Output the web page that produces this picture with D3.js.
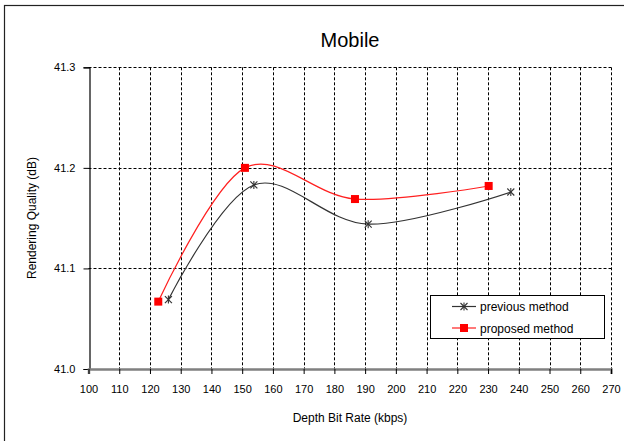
<!DOCTYPE html>
<html>
<head>
<meta charset="utf-8">
<script src="https://cdn.jsdelivr.net/npm/d3@7"></script>
<style>
  html, body { margin: 0; padding: 0; background: #fff; }
  svg { display: block; font-family: "Liberation Sans", Arial, sans-serif; }
</style>
</head>
<body>
<svg id="chart" width="624" height="441"></svg>
<script>
// Depth bit rate (kbps) vs. rendering quality (dB)
const previousRate = [126.0, 153.8, 191.0, 237.4];
const previousQuality = [41.069, 41.183, 41.144, 41.176];
const proposedRate = [122.7, 150.9, 186.7, 230.2];
const proposedQuality = [41.067, 41.200, 41.169, 41.182];
const xTicks = d3.range(100, 271, 10);
const yTicks = [41.0, 41.1, 41.2, 41.3];
const seriesNames = ["previous method", "proposed method"];

const svg = d3.select("#chart");
const margin = { left: 88.5, right: 611, top: 67.3, bottom: 369 };

const x = d3.scaleLinear().domain([100, 270]).range([margin.left, margin.right]);
const y = d3.scaleLinear().domain([41.0, 41.3]).range([margin.bottom, margin.top]);

// outer chart frame
svg.append("rect")
  .attr("x", 4.5).attr("y", 5.5).attr("width", 640).attr("height", 460)
  .attr("fill", "none").attr("stroke", "#222").attr("stroke-width", 1.2);

// title
svg.append("text")
  .attr("x", 350).attr("y", 47)
  .attr("text-anchor", "middle")
  .attr("font-size", 20)
  .attr("fill", "#000")
  .text("Mobile");

// dashed grid
const grid = svg.append("g").attr("stroke", "#000").attr("stroke-width", 1)
  .attr("stroke-dasharray", "3,2");
grid.selectAll("line.v").data(xTicks.filter(d => d > 100)).join("line")
  .attr("class", "v")
  .attr("x1", d => Math.round(x(d)) + 0.5).attr("x2", d => Math.round(x(d)) + 0.5)
  .attr("y1", y(41.3)).attr("y2", y(41.0));
grid.selectAll("line.h").data(yTicks.filter(d => d > 41.0)).join("line")
  .attr("class", "h")
  .attr("x1", x(100)).attr("x2", x(270))
  .attr("y1", d => Math.round(y(d)) + 0.5).attr("y2", d => Math.round(y(d)) + 0.5);

// y axis
const yAxis = svg.append("g")
  .attr("transform", `translate(${Math.round(x(100)) + 0.5},0)`)
  .call(d3.axisLeft(y).tickValues(yTicks).tickFormat(d3.format(".1f")).tickSize(6).tickPadding(8));
yAxis.select(".domain").attr("stroke", "#000").attr("stroke-width", 1.2);
yAxis.selectAll(".tick line").attr("stroke", "#000");
yAxis.selectAll(".tick text").attr("font-size", 11).attr("fill", "#000")
  .attr("font-family", "Liberation Sans, Arial, sans-serif");

// x axis
const xAxis = svg.append("g")
  .attr("transform", `translate(0,${Math.round(y(41.0))})`)
  .call(d3.axisBottom(x).tickValues(xTicks).tickFormat(d3.format("d")).tickSize(5).tickPadding(11));
xAxis.select(".domain").attr("stroke", "#808080").attr("stroke-width", 2.5);
xAxis.selectAll(".tick line").attr("stroke", "#000");
xAxis.selectAll(".tick text").attr("font-size", 11).attr("fill", "#000")
  .attr("font-family", "Liberation Sans, Arial, sans-serif");

// axis titles
svg.append("text")
  .attr("x", 350).attr("y", 422)
  .attr("text-anchor", "middle").attr("font-size", 12).attr("fill", "#000")
  .text("Depth Bit Rate (kbps)");
svg.append("text")
  .attr("transform", "translate(36,218) rotate(-90)")
  .attr("text-anchor", "middle").attr("font-size", 12).attr("fill", "#000")
  .text("Rendering Quality (dB)");

// smoothed series lines
const line = d3.line().x(d => x(d[0])).y(d => y(d[1])).curve(d3.curveCardinal.tension(0));
const prevPts = d3.zip(previousRate, previousQuality);
const propPts = d3.zip(proposedRate, proposedQuality);

svg.append("path").datum(prevPts)
  .attr("d", line).attr("fill", "none").attr("stroke", "#333").attr("stroke-width", 1.2);
svg.append("path").datum(propPts)
  .attr("d", line).attr("fill", "none").attr("stroke", "#ff2020").attr("stroke-width", 1.2);

// asterisk marker
function star(g, cx, cy, r) {
  g.append("line").attr("x1", cx - r).attr("y1", cy - r).attr("x2", cx + r).attr("y2", cy + r);
  g.append("line").attr("x1", cx - r).attr("y1", cy + r).attr("x2", cx + r).attr("y2", cy - r);
  g.append("line").attr("x1", cx).attr("y1", cy - r - 0.5).attr("x2", cx).attr("y2", cy + r + 0.5);
}
const stars = svg.append("g").attr("stroke", "#333").attr("stroke-width", 1.1);
prevPts.forEach(d => star(stars, x(d[0]), y(d[1]), 3.5));

svg.append("g").selectAll("rect").data(propPts).join("rect")
  .attr("x", d => x(d[0]) - 4).attr("y", d => y(d[1]) - 4)
  .attr("width", 8).attr("height", 8).attr("fill", "#ff0000");

// legend
const lg = svg.append("g");
lg.append("rect").attr("x", 430.5).attr("y", 295.5).attr("width", 174).attr("height", 43)
  .attr("fill", "#fff").attr("stroke", "#000").attr("stroke-width", 1);
const legendY = [306.5, 328];
seriesNames.forEach((name, i) => {
  const ly = legendY[i];
  lg.append("line").attr("x1", 452).attr("x2", 476).attr("y1", ly).attr("y2", ly)
    .attr("stroke", i === 0 ? "#333" : "#ff2020").attr("stroke-width", 1.2);
  if (i === 0) {
    const sg = lg.append("g").attr("stroke", "#333").attr("stroke-width", 1.1);
    star(sg, 464, ly, 3.5);
  } else {
    lg.append("rect").attr("x", 460).attr("y", ly - 4).attr("width", 8).attr("height", 8).attr("fill", "#ff0000");
  }
  lg.append("text").attr("x", 480).attr("y", ly + 4.5).attr("font-size", 12).attr("fill", "#000")
    .text(name);
});
</script>
</body>
</html>
